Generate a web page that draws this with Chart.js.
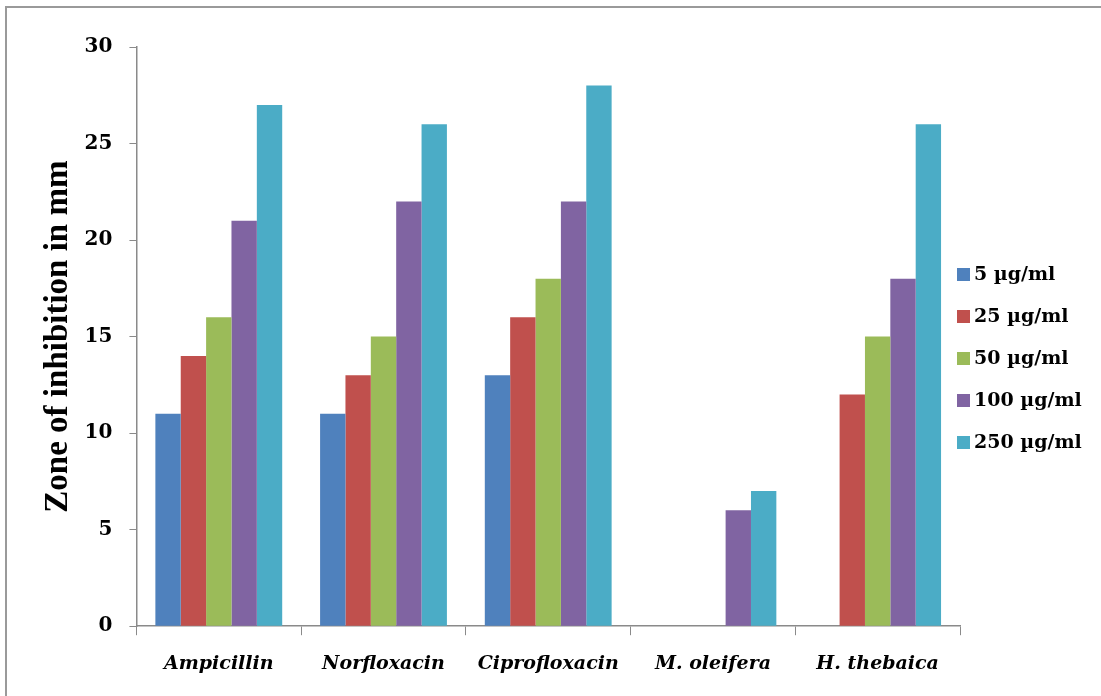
<!DOCTYPE html>
<html>
<head>
<meta charset="utf-8">
<script src="https://cdn.jsdelivr.net/npm/chart.js@4"></script>
<style>
  html, body { margin: 0; padding: 0; background: #fff; overflow: hidden; }
  #wrap { position: relative; width: 1101px; height: 696px; }
  #chart { position: absolute; left: 0; top: 0; }
  #frame { position: absolute; left: 5px; top: 6px; width: 1200px; height: 800px;
           border: 2px solid #9a9a9a; pointer-events: none; }
  #legend { position: absolute; left: 957px; top: 259px; margin: 0; padding: 0; list-style: none;
            font-family: 'DejaVu Serif', serif; font-weight: bold; font-size: 19px; color: #000; }
  #legend li { height: 42px; line-height: 28px; white-space: nowrap; }
  #legend span { display: inline-block; width: 13px; height: 13px; margin-right: 4px; vertical-align: -1px; }
</style>
</head>
<body>
<div id="wrap">
  <canvas id="chart" width="1101" height="696"></canvas>
  <ul id="legend"></ul>
  <div id="frame"></div>
</div>
<script>
// Data
const categories = ['Ampicillin', 'Norfloxacin', 'Ciprofloxacin', 'M. oleifera', 'H. thebaica'];
const seriesNames = ['5 µg/ml', '25 µg/ml', '50 µg/ml', '100 µg/ml', '250 µg/ml'];
const conc5 = [11, 11, 13, 0, 0];
const conc25 = [14, 13, 16, 0, 12];
const conc50 = [16, 15, 18, 0, 15];
const conc100 = [21, 22, 22, 6, 18];
const conc250 = [27, 26, 28, 7, 26];
const yTicks = [0, 5, 10, 15, 20, 25, 30];

const colors = ['#4F81BD', '#C0504D', '#9BBB59', '#8064A2', '#4BACC6'];
const values = [conc5, conc25, conc50, conc100, conc250];

const serif = "'Liberation Serif', 'Times New Roman', serif";
const wideSerif = "'DejaVu Serif', serif";
const axisGray = '#8a8a8a';

const ctx = document.getElementById('chart').getContext('2d');
const chart = new Chart(ctx, {
    type: 'bar',
    data: {
        labels: categories,
        datasets: values.map((data, i) => ({
            label: seriesNames[i],
            data: data,
            backgroundColor: colors[i],
            borderWidth: 0,
            categoryPercentage: 0.77,
            barPercentage: 1.0
        }))
    },
    options: {
        responsive: false,
        animation: false,
        layout: {
            padding: { top: 47, left: 39, right: 141, bottom: 4 }
        },
        plugins: {
            tooltip: { enabled: false },
            legend: { display: false }
        },
        scales: {
            x: {
                grid: {
                    display: true,
                    drawOnChartArea: false,
                    offset: true,
                    tickLength: 9,
                    color: axisGray
                },
                border: { color: axisGray, width: 1.5 },
                ticks: {
                    color: '#000',
                    padding: 17,
                    font: { family: wideSerif, size: 19, weight: 'bold', style: 'italic' }
                }
            },
            y: {
                min: 0,
                max: 30,
                afterBuildTicks: axis => {
                    axis.ticks = yTicks.map(v => ({ value: v }));
                },
                grid: {
                    display: true,
                    drawOnChartArea: false,
                    tickLength: 7,
                    color: axisGray
                },
                border: { color: axisGray, width: 1.5 },
                ticks: {
                    color: '#000',
                    padding: 17,
                    font: { family: wideSerif, size: 20, weight: 'bold' }
                },
                title: {
                    display: true,
                    text: 'Zone of inhibition in mm',
                    color: '#000',
                    padding: { top: 0, bottom: -11 },
                    font: { family: serif, size: 33, weight: 'bold' }
                }
            }
        }
    }
});

// Legend built from the chart's datasets
const legendEl = document.getElementById('legend');
legendEl.innerHTML = chart.data.datasets.map(ds => `
    <li><span style="background:${ds.backgroundColor}"></span>${ds.label}</li>
`).join('');
</script>
</body>
</html>
